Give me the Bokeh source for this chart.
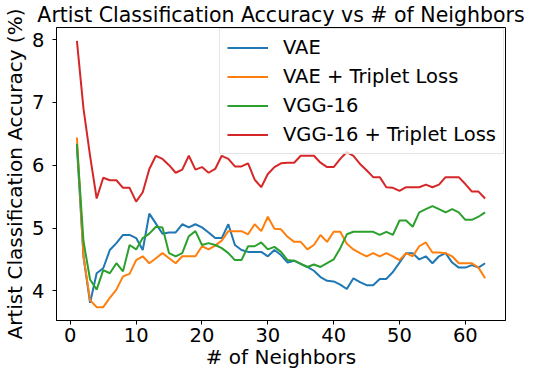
from bokeh.plotting import figure
from bokeh.models import Range1d, FixedTicker, Legend, LegendItem
from bokeh.embed import file_html
from bokeh.resources import INLINE

neighbors = list(range(1, 64))

vae = [6.30, 4.55, 3.81, 4.28, 4.36, 4.65, 4.76, 4.89, 4.89, 4.84,
       4.65, 5.23, 5.07, 4.91, 4.93, 4.93, 5.06, 5.01, 5.06, 5.01,
       4.93, 4.84, 4.84, 5.06, 4.73, 4.65, 4.62, 4.62, 4.62, 4.55,
       4.65, 4.57, 4.45, 4.48, 4.43, 4.38, 4.32, 4.22, 4.16, 4.15,
       4.10, 4.03, 4.20, 4.14, 4.09, 4.09, 4.19, 4.19, 4.30, 4.45,
       4.60, 4.60, 4.50, 4.55, 4.44, 4.55, 4.60, 4.45, 4.37, 4.37,
       4.41, 4.37, 4.44]

vae_triplet = [6.44, 4.55, 3.85, 3.74, 3.74, 3.89, 4.02, 4.23, 4.27, 4.49,
               4.55, 4.44, 4.52, 4.60, 4.52, 4.44, 4.55, 4.55, 4.55, 4.71,
               4.66, 4.72, 4.80, 4.95, 4.95, 4.95, 4.90, 5.06, 4.95, 5.18,
               4.99, 4.98, 4.86, 4.78, 4.78, 4.66, 4.73, 4.89, 4.78, 4.94,
               4.94, 4.75, 4.66, 4.60, 4.55, 4.60, 4.55, 4.60, 4.55, 4.49,
               4.60, 4.55, 4.71, 4.77, 4.61, 4.61, 4.60, 4.55, 4.44, 4.44,
               4.44, 4.37, 4.20]

vgg = [6.34, 4.79, 4.18, 4.02, 4.33, 4.28, 4.44, 4.31, 4.73, 4.66,
       4.84, 4.91, 5.02, 5.01, 4.60, 4.55, 4.60, 4.87, 4.95, 4.73,
       4.76, 4.73, 4.68, 4.60, 4.49, 4.49, 4.71, 4.71, 4.77, 4.66,
       4.70, 4.62, 4.49, 4.48, 4.43, 4.38, 4.42, 4.38, 4.44, 4.50,
       4.68, 4.90, 4.94, 4.94, 4.94, 4.94, 4.89, 4.94, 4.89, 5.12,
       5.12, 5.02, 5.25, 5.30, 5.35, 5.30, 5.25, 5.30, 5.25, 5.13,
       5.13, 5.18, 5.25]

vgg_triplet = [7.98, 6.90, 6.15, 5.47, 5.80, 5.76, 5.76, 5.64, 5.64, 5.42,
               5.57, 5.94, 6.15, 6.10, 6.00, 5.88, 5.93, 6.15, 5.93, 5.97,
               5.88, 5.94, 6.15, 6.10, 5.98, 5.98, 6.03, 5.77, 5.65, 5.86,
               5.97, 6.03, 6.04, 6.04, 6.15, 6.15, 6.15, 6.04, 5.97, 5.97,
               6.10, 6.21, 6.15, 6.02, 5.92, 5.81, 5.81, 5.65, 5.64, 5.59,
               5.65, 5.65, 5.65, 5.69, 5.65, 5.69, 5.81, 5.81, 5.81, 5.70,
               5.58, 5.58, 5.47]

series_names = ["VAE", "VAE + Triplet Loss", "VGG-16", "VGG-16 + Triplet Loss"]
series_colors = ["#1f77b4", "#ff7f0e", "#2ca02c", "#d62728"]
x_ticks = [0, 10, 20, 30, 40, 50, 60]
y_ticks = [4, 5, 6, 7, 8]
title_text = "Artist Classification Accuracy vs # of Neighbors"
x_label_text = "# of Neighbors"
y_label_text = "Artist Classification Accuracy (%)"

FONT = "DejaVu Sans"
FS = "19.5px"
FS_LABEL = "20px"

X0, X1 = -2.1, 66.1
Y0, Y1 = 3.528, 8.192

p = figure(width=524, height=371, output_backend="svg", toolbar_location=None,
           x_range=Range1d(X0, X1), y_range=Range1d(Y0, Y1),
           min_border_left=49, min_border_right=19, min_border_top=25, min_border_bottom=51,
           title=title_text)

p.title.align = "center"
p.title.text_font = FONT
p.title.text_font_size = "20.5px"
p.title.text_font_style = "normal"
p.title.text_color = "black"
p.title.standoff = 1

p.xgrid.visible = False
p.ygrid.visible = False
p.outline_line_color = "black"
p.outline_line_width = 1
p.outline_line_alpha = 1

for ax, ticks in ((p.xaxis[0], x_ticks), (p.yaxis[0], y_ticks)):
    ax.ticker = FixedTicker(ticks=ticks)
    ax.minor_tick_line_color = None
    ax.major_tick_in = 0
    ax.major_tick_out = 4
    ax.major_tick_line_color = "black"
    ax.axis_line_color = "black"
    ax.major_label_text_font = FONT
    ax.major_label_text_font_size = FS
    ax.major_label_text_color = "black"
    ax.axis_label_text_font = FONT
    ax.axis_label_text_font_size = FS_LABEL
    ax.axis_label_text_font_style = "normal"
    ax.axis_label_text_color = "black"

p.xaxis.major_label_standoff = 3
p.xaxis.axis_label = x_label_text
p.xaxis.axis_label_standoff = 0
p.yaxis.major_label_standoff = 8
p.yaxis.axis_label = y_label_text
p.yaxis.axis_label_standoff = 2

renderers = []
for ys, c in zip([vae, vae_triplet, vgg, vgg_triplet], series_colors):
    r = p.line(neighbors, ys, line_color=c, line_width=2)
    renderers.append(r)

legend = Legend(items=[LegendItem(label=n, renderers=[r]) for n, r in zip(series_names, renderers)],
                location="top_right", margin=1, padding=7, spacing=6,
                label_standoff=15, glyph_width=41, glyph_height=23, label_height=23,
                label_text_font=FONT, label_text_font_size=FS, label_text_color="black",
                border_line_color="#cccccc", border_line_width=1,
                background_fill_color="white", background_fill_alpha=0.8)
p.add_layout(legend)

open("out.html", "w").write(file_html(p, INLINE))
